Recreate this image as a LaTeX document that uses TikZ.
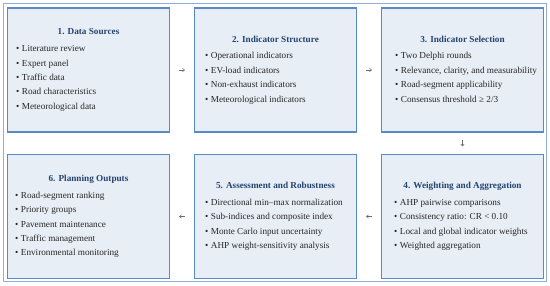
\documentclass[tikz,border=0pt]{standalone}
\usepackage{fontspec}
\setmainfont{Liberation Serif}
\usetikzlibrary{arrows.meta}
\definecolor{frameblue}{HTML}{8FAEDD}
\definecolor{boxblue}{HTML}{5A8AC6}
\definecolor{boxfill}{HTML}{E8EEF6}
\definecolor{titleblue}{HTML}{23446F}
\definecolor{txt}{HTML}{262626}
\definecolor{arr}{HTML}{6A6A6A}
\newcommand{\itm}[1]{\strut\textbullet\hspace{2.5pt}#1}
\begin{document}
\begin{tikzpicture}[x=1pt,y=-1pt,
  stagebox/.style={draw=boxblue, line width=1.2pt, fill=boxfill, minimum width=162pt, minimum height=124pt, inner sep=0pt},
  stagetitle/.style={font=\fontsize{9.2}{11}\selectfont\bfseries, text=titleblue, inner sep=0pt, text height=6.5pt, text depth=2pt},
  stageitems/.style={font=\fontsize{9.2}{14.4}\selectfont, text=txt, align=left, inner sep=0pt, anchor=west},
  flow/.style={draw=arr, line width=0.5pt, -{Straight Barb[length=2pt,width=3.5pt]}, shorten <=9pt, shorten >=9pt}
]
\useasboundingbox (0,0) rectangle (550,286);
\draw[frameblue, line width=1.5pt] (3.5,3.5) rectangle (546.5,281.5);

% row 1
\node[stagebox] (b1) at (88.5,70) {};
\node[stagebox] (b2) at (275.5,70) {};
\node[stagebox] (b3) at (462.5,70) {};
% row 2
\node[stagebox] (b4) at (462.5,216.5) {};
\node[stagebox] (b5) at (275.5,216.5) {};
\node[stagebox] (b6) at (88.5,216.5) {};

\node[stagetitle] (t1) at (88.5,32.7) {1. Data Sources};
\node[stageitems] (l1) at (16,77.7) {\itm{Literature review}\\\itm{Expert panel}\\\itm{Traffic data}\\\itm{Road characteristics}\\\itm{Meteorological data}};

\node[stagetitle] (t2) at (275.5,40.5) {2. Indicator Structure};
\node[stageitems] (l2) at (205,77.7) {\itm{Operational indicators}\\\itm{EV-load indicators}\\\itm{Non-exhaust indicators}\\\itm{Meteorological indicators}};

\node[stagetitle] (t3) at (462.5,40.5) {3. Indicator Selection};
\node[stageitems] (l3) at (395,77.7) {\itm{Two Delphi rounds}\\\itm{Relevance, clarity, and measurability}\\\itm{Road-segment applicability}\\\itm{Consensus threshold ≥ 2/3}};

\node[stagetitle] (t4) at (462.5,186.4) {4. Weighting and Aggregation};
\node[stageitems] (l4) at (394,224.2) {\itm{AHP pairwise comparisons}\\\itm{Consistency ratio: CR < 0.10}\\\itm{Local and global indicator weights}\\\itm{Weighted aggregation}};

\node[stagetitle] (t5) at (275.5,186.4) {5. Assessment and Robustness};
\node[stageitems] (l5) at (205,224.2) {\itm{Directional min–max normalization}\\\itm{Sub-indices and composite index}\\\itm{Monte Carlo input uncertainty}\\\itm{AHP weight-sensitivity analysis}};

\node[stagetitle] (t6) at (88.5,179.2) {6. Planning Outputs};
\node[stageitems] (l6) at (15,224.2) {\itm{Road-segment ranking}\\\itm{Priority groups}\\\itm{Pavement maintenance}\\\itm{Traffic management}\\\itm{Environmental monitoring}};

\draw[flow] (b1.east) -- (b2.west);
\draw[flow] (b2.east) -- (b3.west);
\draw[flow, shorten <=7.5pt, shorten >=7.5pt] (b3.south) -- (b4.north);
\draw[flow] (b4.west) -- (b5.east);
\draw[flow] (b5.west) -- (b6.east);
\end{tikzpicture}
\end{document}
